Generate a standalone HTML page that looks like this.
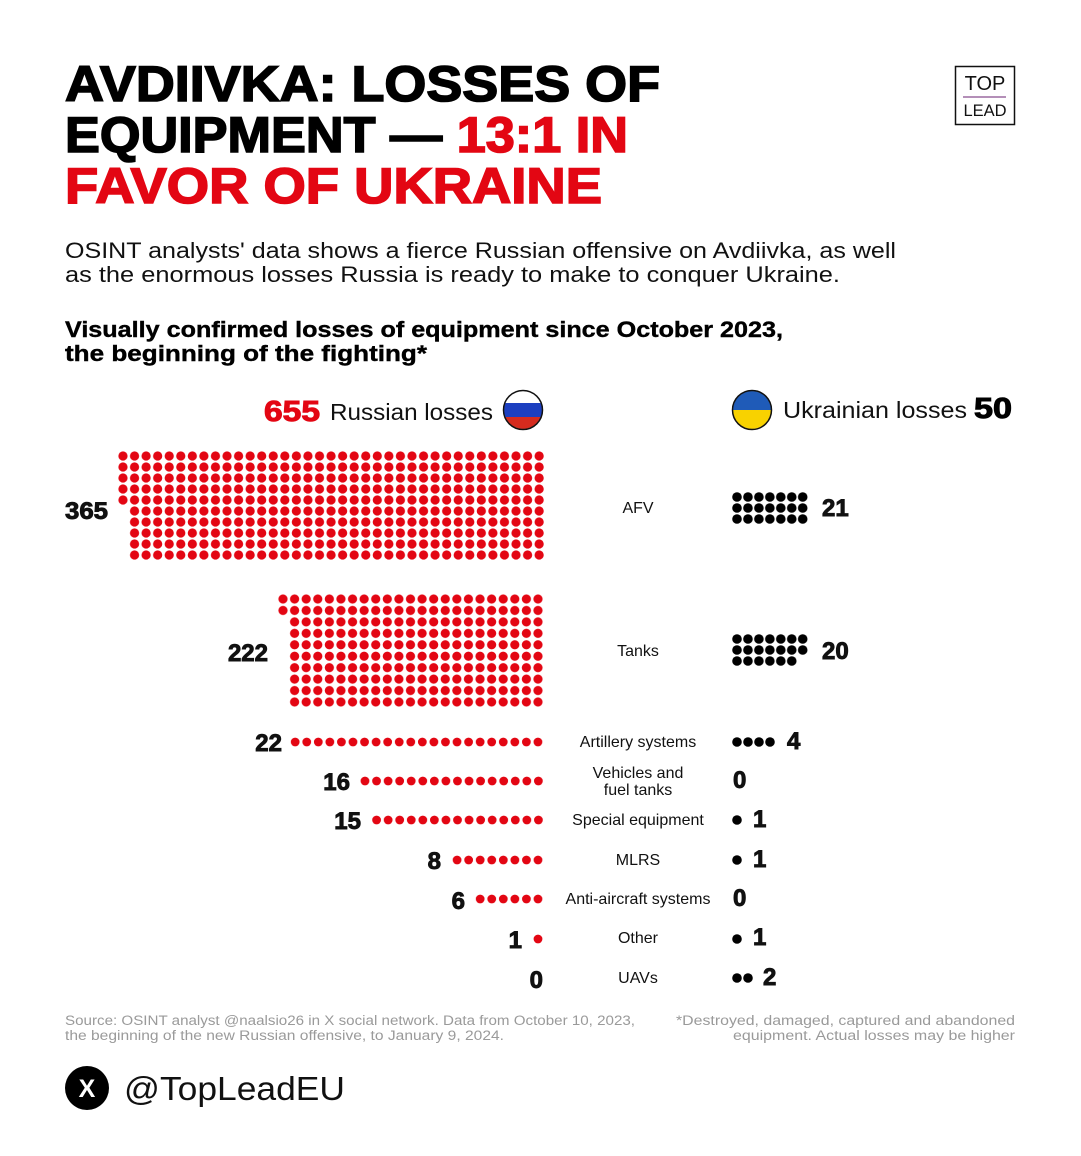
<!DOCTYPE html>
<html><head><meta charset="utf-8"><style>
html,body{margin:0;padding:0;background:#fff;}
svg{display:block;}
text{font-family:"Liberation Sans",sans-serif;}
.b{font-weight:bold;}
.lbl{font-size:16px;fill:#111;text-anchor:middle;}
.num{font-size:24px;font-weight:bold;fill:#111;stroke:#111;stroke-width:0.9px;}
.ft{font-size:13.5px;fill:#9a9a9a;}
.hv{stroke-width:1.4px;}
</style></head><body>
<svg width="1081" height="1156" viewBox="0 0 1081 1156" xmlns="http://www.w3.org/2000/svg">
<defs>
<pattern id="pa" patternUnits="userSpaceOnUse" x="117.2" y="450.5" width="11.56" height="11"><circle cx="5.78" cy="5.5" r="4.6" fill="#e30613"/></pattern>
<pattern id="pt" patternUnits="userSpaceOnUse" x="277.2" y="593.3" width="11.59" height="11.44"><circle cx="5.8" cy="5.72" r="4.6" fill="#e30613"/></pattern>
<pattern id="pbt" patternUnits="userSpaceOnUse" x="731.5" y="633.5" width="10.95" height="11"><circle cx="5.5" cy="5.5" r="4.8" fill="#000"/></pattern>
<pattern id="pba" patternUnits="userSpaceOnUse" x="731.5" y="491.5" width="10.95" height="11"><circle cx="5.5" cy="5.5" r="4.8" fill="#000"/></pattern>
<pattern id="pv" patternUnits="userSpaceOnUse" x="359.2" y="771" width="11.56" height="20"><circle cx="5.78" cy="10" r="4.4" fill="#e30613"/></pattern>
<pattern id="ps" patternUnits="userSpaceOnUse" x="370.8" y="810" width="11.56" height="20"><circle cx="5.78" cy="10" r="4.4" fill="#e30613"/></pattern>
<pattern id="pm" patternUnits="userSpaceOnUse" x="451.3" y="850" width="11.56" height="20"><circle cx="5.78" cy="10" r="4.4" fill="#e30613"/></pattern>
<pattern id="pn" patternUnits="userSpaceOnUse" x="474.4" y="889" width="11.56" height="20"><circle cx="5.78" cy="10" r="4.4" fill="#e30613"/></pattern>
<pattern id="pq" patternUnits="userSpaceOnUse" x="289.4" y="732" width="11.56" height="20"><circle cx="5.78" cy="10" r="4.4" fill="#e30613"/></pattern>
</defs>

<!-- Title -->
<text x="65" y="101" class="b" font-size="50" textLength="595" lengthAdjust="spacingAndGlyphs" fill="#000" stroke="#000" stroke-width="1.6">AVDIIVKA: LOSSES OF</text>
<text x="65" y="152" class="b" font-size="50" textLength="563" lengthAdjust="spacingAndGlyphs" fill="#000" stroke="#000" stroke-width="1.6">EQUIPMENT — <tspan fill="#e30613" stroke="#e30613">13:1 IN</tspan></text>
<text x="65" y="203" class="b" font-size="50" textLength="537" lengthAdjust="spacingAndGlyphs" fill="#e30613" stroke="#e30613" stroke-width="1.6">FAVOR OF UKRAINE</text>

<!-- Logo -->
<rect x="955.5" y="66.5" width="59" height="58" fill="none" stroke="#111" stroke-width="1.5"/>
<text x="985" y="90" font-size="20" text-anchor="middle" fill="#111">TOP</text>
<line x1="963" y1="97" x2="1006" y2="97" stroke="#9b6aa0" stroke-width="1.5"/>
<text x="985" y="116" font-size="16.5" text-anchor="middle" fill="#111">LEAD</text>

<!-- Subtitle -->
<text x="65" y="258" font-size="22" textLength="831" lengthAdjust="spacingAndGlyphs" fill="#111">OSINT analysts' data shows a fierce Russian offensive on Avdiivka, as well</text>
<text x="65" y="282" font-size="22" textLength="775" lengthAdjust="spacingAndGlyphs" fill="#111">as the enormous losses Russia is ready to make to conquer Ukraine.</text>
<text x="65" y="337" class="b" font-size="22" textLength="718" lengthAdjust="spacingAndGlyphs" fill="#000" stroke="#000" stroke-width="0.4">Visually confirmed losses of equipment since October 2023,</text>
<text x="65" y="361" class="b" font-size="22" textLength="362" lengthAdjust="spacingAndGlyphs" fill="#000" stroke="#000" stroke-width="0.4">the beginning of the fighting*</text>

<!-- Legend -->
<text x="264" y="421" class="b" font-size="29" textLength="56" lengthAdjust="spacingAndGlyphs" fill="#e30613" stroke="#e30613" stroke-width="1">655</text>
<text x="330" y="420" font-size="23" textLength="163" lengthAdjust="spacingAndGlyphs" fill="#111">Russian losses</text>
<clipPath id="cr"><circle cx="523" cy="410" r="19"/></clipPath>
<g clip-path="url(#cr)"><rect x="503" y="390" width="40" height="13" fill="#fff"/><rect x="503" y="403" width="40" height="14" fill="#1c3fc0"/><rect x="503" y="417" width="40" height="14" fill="#d52b1e"/></g>
<circle cx="523" cy="410" r="19.5" fill="none" stroke="#111" stroke-width="1.5"/>
<clipPath id="cu"><circle cx="752" cy="410" r="19"/></clipPath>
<g clip-path="url(#cu)"><rect x="732" y="390" width="40" height="20" fill="#1f5bb8"/><rect x="732" y="410" width="40" height="20" fill="#f8d200"/></g>
<circle cx="752" cy="410" r="19.5" fill="none" stroke="#111" stroke-width="1.5"/>
<text x="783" y="418" font-size="23" textLength="184" lengthAdjust="spacingAndGlyphs" fill="#111">Ukrainian losses</text>
<text x="974" y="418" class="b" font-size="29" textLength="38" lengthAdjust="spacingAndGlyphs" fill="#000" stroke="#000" stroke-width="1">50</text>

<!-- AFV red -->
<rect x="117.2" y="450.5" width="427.7" height="55" fill="url(#pa)"/>
<rect x="128.76" y="505.5" width="416.2" height="55" fill="url(#pa)"/>
<!-- Tanks red -->
<rect x="277.2" y="593.3" width="266.6" height="22.88" fill="url(#pt)"/>
<rect x="288.79" y="616.18" width="255" height="91.5" fill="url(#pt)"/>

<!-- Black dots -->
<rect x="731.5" y="491.5" width="76.65" height="33" fill="url(#pba)"/>
<rect x="731.5" y="633.5" width="76.65" height="22" fill="url(#pbt)"/>
<rect x="731.5" y="655.5" width="65.7" height="11" fill="url(#pbt)"/>

<g fill="#000">
<circle cx="737" cy="742" r="4.8"/><circle cx="748" cy="742" r="4.8"/><circle cx="759" cy="742" r="4.8"/><circle cx="770" cy="742" r="4.8"/>
<circle cx="737" cy="820" r="4.8"/>
<circle cx="737" cy="860" r="4.8"/>
<circle cx="737" cy="939" r="4.8"/>
<circle cx="737" cy="978" r="4.8"/><circle cx="748" cy="978" r="4.8"/>
</g>

<rect x="289.4" y="732" width="254.3" height="20" fill="url(#pq)"/>
<rect x="359.2" y="771" width="184.96" height="20" fill="url(#pv)"/>
<rect x="370.8" y="810" width="173.4" height="20" fill="url(#ps)"/>
<rect x="451.3" y="850" width="92.5" height="20" fill="url(#pm)"/>
<rect x="474.4" y="889" width="69.4" height="20" fill="url(#pn)"/>
<circle cx="538" cy="939" r="4.4" fill="#e30613"/>

<!-- Left numbers -->
<text x="65" y="519" class="num" textLength="43" lengthAdjust="spacingAndGlyphs">365</text>
<text x="268" y="661" class="num" text-anchor="end">222</text>
<text x="282" y="751" class="num" text-anchor="end">22</text>
<text x="350" y="790" class="num" text-anchor="end">16</text>
<text x="361" y="829" class="num" text-anchor="end">15</text>
<text x="441" y="869" class="num" text-anchor="end">8</text>
<text x="465" y="909" class="num" text-anchor="end">6</text>
<text x="522" y="948" class="num" text-anchor="end">1</text>
<text x="543" y="988" class="num" text-anchor="end">0</text>

<!-- Right numbers -->
<text x="822" y="516" class="num">21</text>
<text x="822" y="659" class="num">20</text>
<text x="787" y="749" class="num">4</text>
<text x="733" y="788" class="num">0</text>
<text x="753" y="827" class="num">1</text>
<text x="753" y="867" class="num">1</text>
<text x="733" y="906" class="num">0</text>
<text x="753" y="945" class="num">1</text>
<text x="763" y="985" class="num">2</text>

<!-- Center labels -->
<text x="638" y="513" class="lbl">AFV</text>
<text x="638" y="656" class="lbl">Tanks</text>
<text x="638" y="747" class="lbl">Artillery systems</text>
<text x="638" y="778" class="lbl">Vehicles and</text>
<text x="638" y="795" class="lbl">fuel tanks</text>
<text x="638" y="825" class="lbl">Special equipment</text>
<text x="638" y="865" class="lbl">MLRS</text>
<text x="638" y="904" class="lbl">Anti-aircraft systems</text>
<text x="638" y="943" class="lbl">Other</text>
<text x="638" y="983" class="lbl">UAVs</text>

<!-- Footer -->
<text x="65" y="1025" class="ft" textLength="570" lengthAdjust="spacingAndGlyphs">Source: OSINT analyst @naalsio26 in X social network. Data from October 10, 2023,</text>
<text x="65" y="1040" class="ft" textLength="439" lengthAdjust="spacingAndGlyphs">the beginning of the new Russian offensive, to January 9, 2024.</text>
<text x="1015" y="1025" class="ft" text-anchor="end" textLength="339" lengthAdjust="spacingAndGlyphs">*Destroyed, damaged, captured and abandoned</text>
<text x="1015" y="1040" class="ft" text-anchor="end" textLength="282" lengthAdjust="spacingAndGlyphs">equipment. Actual losses may be higher</text>

<circle cx="87" cy="1088" r="22" fill="#000"/>
<text x="87" y="1097" font-size="25" font-weight="bold" text-anchor="middle" fill="#fff">X</text>
<text x="124" y="1100" font-size="33" textLength="221" lengthAdjust="spacingAndGlyphs" fill="#111">@TopLeadEU</text>
</svg>
</body></html>
